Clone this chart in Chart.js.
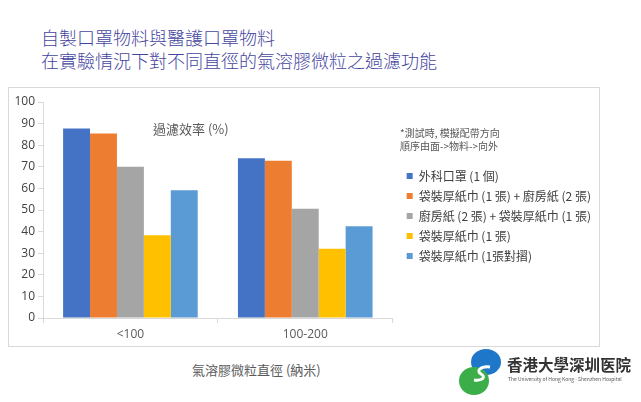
<!DOCTYPE html>
<html>
<head>
<meta charset="utf-8">
<script src="https://cdn.jsdelivr.net/npm/chart.js@4.4.0/dist/chart.umd.min.js"></script>
<style>
  body { margin: 0; width: 641px; height: 402px; background: #fff; position: relative; overflow: hidden;
         font-family: "Noto Sans CJK TC", "Noto Sans", sans-serif; }
  .title { position: absolute; left: 41px; color: #4545a0; font-size: 18px; line-height: 22px; font-weight: 300; white-space: nowrap; }
  #box { position: absolute; left: 8px; top: 87px; width: 592px; height: 260px; border: 1px solid #d9d9d9; box-sizing: border-box; }
  #box canvas { position: absolute; left: 0; top: 0; }
  .lbl { position: absolute; color: #595959; white-space: nowrap; }
</style>
</head>
<body>
<div class="title" style="top:26px">自製口罩物料與醫護口罩物料</div>
<div class="title" style="top:49px">在實驗情況下對不同直徑的氣溶膠微粒之過濾功能</div>

<div id="box"><canvas id="myChart" width="592" height="260" style="width:592px;height:260px"></canvas></div>

<div class="lbl" style="left:153px;top:119px;font-size:13px">過濾效率 (%)</div>
<div class="lbl" style="left:400px;top:126px;font-size:10px;line-height:13px">*測試時, 模擬配帶方向<br>順序由面-&gt;物料-&gt;向外</div>
<div class="lbl" style="left:192px;top:360px;font-size:13px">氣溶膠微粒直徑 (納米)</div>

<svg style="position:absolute;left:456px;top:346px" width="52" height="52" viewBox="0 0 52 52">
  <ellipse cx="30" cy="16" rx="15" ry="13" fill="#1f77c9"/>
  <ellipse cx="18" cy="35" rx="15" ry="14" fill="#3cae49"/>
  <path d="M34 21 C24 20 20 25 25 28 C30 31 27 35 18 34" stroke="#fff" stroke-width="3" fill="none"/>
</svg>
<div class="lbl" style="left:507px;top:353px;font-size:15.5px;font-weight:bold;color:#333">香港大學深圳医院</div>
<div class="lbl" style="left:508px;top:375px;font-size:5px;color:#555">The University of Hong Kong - Shenzhen Hospital</div>

<script>
var categories = ['<100', '100-200'];
var seriesNames = ['外科口罩 (1 個)', '袋裝厚紙巾 (1 張) + 廚房紙 (2 張)', '廚房紙 (2 張) + 袋裝厚紙巾 (1 張)', '袋裝厚紙巾 (1 張)', '袋裝厚紙巾 (1張對摺)'];
var surgicalMask = [87.7, 74];
var tissuePlusKitchen = [85.4, 72.8];
var kitchenPlusTissue = [70, 50.6];
var tissueOne = [38.3, 32.1];
var tissueFolded = [59.2, 42.5];
var yTicks = [0, 10, 20, 30, 40, 50, 60, 70, 80, 90, 100];
var colors = ['#4472C4', '#ED7D31', '#A5A5A5', '#FFC000', '#5B9BD5'];

var values = [surgicalMask, tissuePlusKitchen, kitchenPlusTissue, tissueOne, tissueFolded];
var datasets = [];
for (var i = 0; i < values.length; i++) {
    datasets.push({
        label: seriesNames[i],
        data: values[i],
        backgroundColor: colors[i],
        borderWidth: 0,
        categoryPercentage: 0.77,
        barPercentage: 1.0
    });
}

// nudge the legend a bit right/up inside its box, like the original
var legendNudge = {
    id: 'legendNudge',
    afterLayout: function (chart) {
        var lg = chart.legend;
        lg.left += 6; lg.right += 6;
        lg.top -= 9; lg.bottom -= 9;
    }
};

var ctx = document.getElementById('myChart').getContext('2d');
var chart = new Chart(ctx, {
    type: 'bar',
    data: { labels: categories, datasets: datasets },
    plugins: [legendNudge],
    options: {
        responsive: false,
        animation: false,
        devicePixelRatio: 1,
        layout: { padding: { top: 14, right: 6, left: 0, bottom: 0 } },
        scales: {
            x: {
                grid: { offset: true, drawOnChartArea: false, color: '#d9d9d9', tickLength: 5 },
                border: { color: '#d9d9d9' },
                ticks: { color: '#595959', font: { family: 'Open Sans', size: 12 }, padding: 4 },
                afterFit: function (scale) { scale.height = 30; }
            },
            y: {
                min: 0, max: 100,
                afterBuildTicks: function (scale) { scale.ticks = yTicks.map(function (v) { return { value: v }; }); },
                grid: { drawOnChartArea: false, color: '#d9d9d9', tickLength: 5 },
                border: { color: '#d9d9d9' },
                ticks: { color: '#404040', font: { family: 'Open Sans', size: 12 }, padding: 3 },
                afterFit: function (scale) { scale.width = 34; }
            }
        },
        plugins: {
            legend: {
                position: 'right',
                align: 'center',
                maxWidth: 206,
                labels: {
                    boxWidth: 6, boxHeight: 6, padding: 8,
                    color: '#404040',
                    font: { family: 'Noto Sans CJK TC', size: 12 }
                }
            },
            tooltip: { enabled: false }
        }
    }
});
</script>
</body>
</html>
